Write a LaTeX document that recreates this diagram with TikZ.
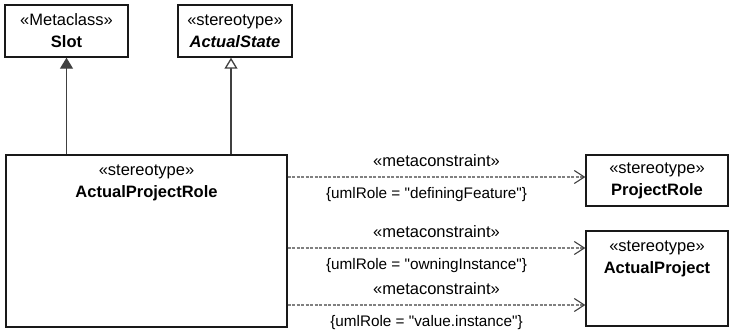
\documentclass[tikz,border=0pt]{standalone}
\usepackage{fontspec}
\setmainfont{Liberation Sans}
\usetikzlibrary{arrows.meta}
\definecolor{edgegray}{HTML}{404040}
\definecolor{dashgray}{HTML}{808080}

\begin{document}
\begin{tikzpicture}[x=1pt, y=-1pt,
    font=\fontsize{16.5}{22}\selectfont,
    umlbox/.style={draw=black!90, line width=1.4pt, fill=white, inner sep=0pt, align=center},
    hdrtext/.style={anchor=north, align=center, inner sep=0pt, yshift=-10pt},
    gen/.style={draw=edgegray, line width=1.3pt, -{Triangle[length=11pt, width=13pt, fill=edgegray]}},
    ext/.style={draw=edgegray, line width=1.3pt, -{Triangle[open, length=11pt, width=13pt, fill=white]}},
    meta/.style={draw=dashgray, line width=1.1pt, dash pattern=on 3pt off 1.5pt, -{Straight Barb[length=10pt, width=13pt, color=edgegray, line width=1.1pt]}},
    stlbl/.style={inner sep=0pt, text height=11pt, text depth=3pt, midway, above=7pt},
    cnlbl/.style={inner sep=0pt, font=\fontsize{15.3}{20}\selectfont, text height=11pt, text depth=3pt, midway, below=10pt, xshift=-10pt}
]
\useasboundingbox (0,0) rectangle (729,330);

% metaclass and stereotypes above
\node[umlbox, minimum width=123pt, minimum height=52pt] (slot) at (66.5,31) {«Metaclass»\\\textbf{Slot}};
\node[umlbox, minimum width=114pt, minimum height=52pt] (actstate) at (235,31) {«stereotype»\\\textbf{\textit{ActualState}}};

% main stereotype
\node[umlbox, minimum width=281pt, minimum height=172pt,
      label={[hdrtext]north:«stereotype»\\\textbf{ActualProjectRole}}] (apr) at (146.5,241) {};

% targets on the right
\node[umlbox, minimum width=142pt, minimum height=51pt] (prole) at (657,180.5) {«stereotype»\\\textbf{ProjectRole}};
\node[umlbox, minimum width=142pt, minimum height=95pt,
      label={[hdrtext]north:«stereotype»\\\textbf{ActualProject}}] (aproj) at (657,278.5) {};

% generalization / extension
\draw[gen] (apr.north -| slot.south) -- (slot.south);
\coordinate (ast) at ([xshift=-4pt]actstate.south);
\draw[ext] (apr.north -| ast) -- (ast);

% metaconstraints
\coordinate (m1) at ([yshift=3.5pt]prole.west);
\coordinate (m2) at ([yshift=30.5pt]aproj.west);
\coordinate (m3) at ([yshift=-26.5pt]aproj.west);
\draw[meta] (apr.east |- m1) -- node[stlbl] {«metaconstraint»} node[cnlbl] {\{umlRole = \textquotedbl definingFeature\textquotedbl\}} (m1);
\draw[meta] (apr.east |- m2) -- node[stlbl] {«metaconstraint»} node[cnlbl] {\{umlRole = \textquotedbl owningInstance\textquotedbl\}} (m2);
\draw[meta] (apr.east |- m3) -- node[stlbl] {«metaconstraint»} node[cnlbl] {\{umlRole = \textquotedbl value.instance\textquotedbl\}} (m3);
\end{tikzpicture}
\end{document}
